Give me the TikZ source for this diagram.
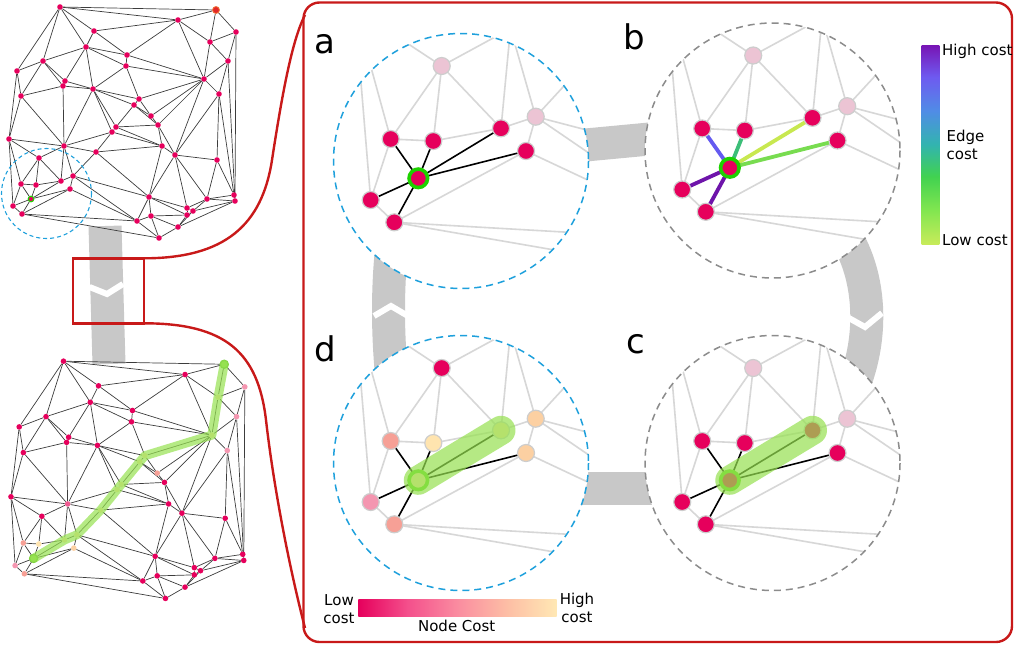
\documentclass[tikz,border=0pt]{standalone}
\usepackage{fontspec}
\setmainfont{DejaVu Sans}
\usetikzlibrary{backgrounds}

\definecolor{nodemag}{RGB}{230,0,92}
\definecolor{nodepale}{RGB}{236,196,212}
\definecolor{nodeborder}{RGB}{205,205,205}
\definecolor{lightedgec}{RGB}{215,215,215}
\definecolor{miniedgec}{RGB}{60,60,60}
\definecolor{bandgray}{RGB}{200,200,200}
\definecolor{framered}{RGB}{200,25,25}
\definecolor{zoomblue}{RGB}{30,160,220}
\definecolor{zoomgray}{RGB}{140,140,140}
\definecolor{ringgreen}{RGB}{30,210,0}
\definecolor{ringlight}{RGB}{90,215,30}
\definecolor{pathgreen}{RGB}{150,225,80}
\definecolor{endringc}{RGB}{110,200,50}
\definecolor{costsalmon}{RGB}{246,160,150}
\definecolor{costyellow}{RGB}{255,228,175}
\definecolor{costpeach}{RGB}{252,208,162}
\definecolor{costpink}{RGB}{244,150,176}
\definecolor{costhot}{RGB}{238,90,145}
\definecolor{goalred}{RGB}{226,40,40}
\definecolor{goalring}{RGB}{240,120,60}
\definecolor{ecviolet}{RGB}{100,90,240}
\definecolor{ecteal}{RGB}{60,190,120}
\definecolor{eclime}{RGB}{200,232,80}
\definecolor{ecgreen}{RGB}{120,220,80}
\definecolor{ecpurple}{RGB}{110,20,170}
% colour bar stops
\definecolor{ec0}{RGB}{200,235,90}
\definecolor{ec1}{RGB}{130,230,80}
\definecolor{ec2}{RGB}{65,210,80}
\definecolor{ec3}{RGB}{50,180,175}
\definecolor{ec4}{RGB}{80,140,230}
\definecolor{ec5}{RGB}{110,90,240}
\definecolor{ec6}{RGB}{120,20,180}
\definecolor{nc0}{RGB}{230,0,92}
\definecolor{nc1}{RGB}{244,80,140}
\definecolor{nc2}{RGB}{250,140,160}
\definecolor{nc3}{RGB}{253,190,165}
\definecolor{nc4}{RGB}{255,232,180}

\pgfdeclareverticalshading{edgecostbar}{100bp}{color(0bp)=(ec0); color(25bp)=(ec0); color(33.5bp)=(ec1); color(42bp)=(ec2); color(50bp)=(ec3); color(58.5bp)=(ec4); color(67bp)=(ec5); color(75bp)=(ec6); color(100bp)=(ec6)}
\pgfdeclarehorizontalshading{nodecostbar}{100bp}{color(0bp)=(nc0); color(25bp)=(nc0); color(37.5bp)=(nc1); color(50bp)=(nc2); color(62.5bp)=(nc3); color(75bp)=(nc4); color(100bp)=(nc4)}

% overview graph: index/x/y
\newcommand{\minipts}{1/60/7, 2/216/10, 3/178/20, 4/236/32, 5/94/31, 6/210/42, 7/86/47, 8/127/55, 9/43/61, 10/228/61, 11/126/66, 12/17/71, 13/65/81, 14/204/79, 15/63/86, 16/93/89, 17/219/94, 18/21/96, 19/139/99, 20/134/105, 21/151/116, 22/158/125, 23/116/127, 24/112/132, 25/9/139, 26/64/146, 27/162/146, 28/96/152, 29/175/155, 30/39/158, 31/217/160, 32/73/176, 33/61/181, 34/21/184, 35/36/185, 36/70/189, 37/31/199, 38/149/197, 39/234/195, 40/235/201, 41/207/199, 42/13/206, 43/187/208, 44/193/211, 45/187/215, 46/22/214, 47/151/216, 48/137/221, 49/178/227, 50/159/238}
\newcommand{\miniedges}{1/2,1/3,1/5,1/7,1/9,1/12,2/3,2/4,2/6,3/5,3/6,3/8,3/14,4/6,4/10,4/40,5/7,5/8,6/10,6/14,7/8,7/9,7/11,7/13,7/16,8/11,8/14,9/12,9/13,9/15,9/18,10/14,10/17,10/40,11/14,11/16,11/19,12/18,12/25,13/15,13/16,14/17,14/19,14/21,14/22,14/29,15/16,15/18,15/26,16/19,16/20,16/23,16/24,16/26,17/29,17/31,17/39,18/25,18/26,19/20,19/21,20/21,20/22,20/23,21/22,22/23,22/27,22/29,23/24,23/27,24/26,24/27,24/28,25/26,25/30,25/34,25/42,26/28,26/30,26/32,26/33,27/28,27/29,27/38,28/32,28/38,29/31,29/38,29/41,29/43,30/33,30/34,30/35,31/39,31/41,32/33,32/36,32/38,32/48,33/35,33/37,34/35,34/37,34/42,35/37,36/37,36/46,36/48,37/42,37/46,38/43,38/45,38/47,38/48,39/40,39/41,40/41,40/44,40/49,41/43,41/44,42/46,43/44,43/45,44/45,44/49,45/47,45/49,46/48,46/50,47/48,47/49,47/50,48/50,49/50}

% zoomed neighbourhood, in the frame of panel a
\newcommand{\zoompoints}[1]{%
  \coordinate (#1p25) at (354.9,8.8);
  \coordinate (#1p26) at (510.5,28.6);
  \coordinate (#1p28) at (601.1,45.6);
  \coordinate (#1p38) at (751.1,172.9);
  \coordinate (#1p48) at (717.1,240.8);
  \coordinate (#1p50) at (779.4,288.9);
  \coordinate (#1p30) at (441.7,66);
  \coordinate (#1p32) at (535.7,116.7);
  \coordinate (#1p33) at (501,128.3);
  \coordinate (#1p34) at (390.7,139);
  \coordinate (#1p35) at (433.3,141);
  \coordinate (#1p36) at (526,151);
  \coordinate (#1p37) at (418.3,178.3);
  \coordinate (#1p42) at (370.7,200);
  \coordinate (#1p46) at (394.3,222.3);
}
\newcommand{\zoomlight}[1]{%
  \begin{scope}
    \clip (461,161) circle (127.5);
    \foreach \u/\v in {25/30,26/30,30/33,30/34,30/35,25/34,25/42,34/35,34/42,33/35,26/33,26/32,28/32,32/38,32/48,32/33,32/36,36/48,36/46,42/46,46/48,46/50}
      \draw[lightedge] (#1p\u) -- (#1p\v);
  \end{scope}
}

\tikzset{
  every node/.style={font=\fontsize{15}{18}\selectfont},
  minidot/.style={circle, fill=nodemag, inner sep=0pt, minimum size=5.6pt},
  miniedge/.style={draw=miniedgec, line width=0.7pt},
  minicircle/.style={draw=zoomblue, dash pattern=on 4pt off 3pt, line width=1.1pt},
  zoomdot/.style={circle, fill=nodemag, draw=nodeborder, line width=1.2pt, inner sep=0pt, minimum size=17pt},
  zoomring/.style={draw=ringgreen, line width=3.6pt, minimum size=18.5pt},
  lightedge/.style={draw=lightedgec, line width=1.6pt},
  nbredge/.style={draw=black, line width=1.6pt},
  costedge/.style={line width=3.8pt},
  band/.style={draw=bandgray, line width=33pt},
  chevron/.style={draw=white, line width=6pt},
  pathglow/.style={draw=pathgreen, opacity=0.7, line cap=round, line join=round},
  endring/.style={circle, fill=pathgreen, draw=endringc, line width=1.3pt, inner sep=0pt, minimum size=8pt},
  zoomcircle/.style={dash pattern=on 7pt off 5pt, line width=1.5pt},
  redline/.style={draw=framered, line width=2.4pt},
  panellabel/.style={font=\fontsize{34}{34}\selectfont, anchor=base west, inner sep=0pt},
  barlabel/.style={inner sep=0pt},
  tnode2/.style={minimum size=7pt, fill=goalred, draw=goalring, line width=0.8pt},
  tnode37/.style={draw=ringgreen, line width=1.1pt},
  bnode4/.style={fill=costpink}, bnode10/.style={fill=costpink},
  bnode17/.style={fill=costpink}, bnode21/.style={fill=costsalmon},
  bnode26/.style={fill=costhot}, bnode34/.style={fill=costsalmon},
  bnode35/.style={fill=costyellow}, bnode36/.style={fill=costpeach},
  bnode42/.style={fill=costpink}, bnode46/.style={fill=costsalmon},
  bnode2/.style={fill=costyellow}, bnode6/.style={fill=costyellow},
  bnode14/.style={fill=costyellow}, bnode19/.style={fill=costyellow},
  bnode20/.style={fill=costyellow}, bnode23/.style={fill=costyellow},
  bnode24/.style={fill=costyellow}, bnode28/.style={fill=costyellow},
  bnode32/.style={fill=costyellow}, bnode33/.style={fill=costyellow},
  bnode37/.style={fill=costyellow},
}

\begin{document}
\begin{tikzpicture}[x=1pt, y=-1pt]
\useasboundingbox (0,0) rectangle (1016,645);

% flow bands between the views
\begin{scope}[on background layer]
  \draw[band] (105,226) -- (109,364);
  \draw[chevron] (89.5,287) -- (107,294) -- (123,284);
  \draw[band] (575,146) -- (660,138);
  \draw[band] (845,235) .. controls (870,275) and (875,335) .. (852,390);
  \draw[chevron] (847,317) -- (865,327) -- (882,313);
  \draw[band] (575,488.5) -- (660,488.5);
  \draw[band] (393,235) .. controls (387,285) and (387,335) .. (393,390);
  \draw[chevron] (374,316) -- (391,306) -- (408,316);
\end{scope}

% overview graph, top
\begin{scope}
  \foreach \i/\x/\y in \minipts
    \node[minidot, tnode\i/.try] (t\i) at (\x,\y) {};
  \begin{scope}[on background layer]
    \foreach \u/\v in \miniedges
      \draw[miniedge] (t\u) -- (t\v);
  \end{scope}
  \draw[minicircle] (46.5,193.5) circle (45);
\end{scope}

% overview graph, bottom, with the found path
\begin{scope}[shift={(1.7,354)}, xscale=1.03, yscale=1.027]
  \foreach \i/\x/\y in \minipts
    \node[minidot, bnode\i/.try] (b\i) at (\x,\y) {};
  \begin{scope}[on background layer]
    \foreach \u/\v in \miniedges
      \draw[miniedge] (b\u) -- (b\v);
  \end{scope}
  \node[endring] (startring) at (b37) {};
  \node[endring] (goalring) at (b2) {};
  \draw[pathglow, line width=9pt] (b37.center) -- (b33.center) -- (b32.center) -- (b28.center)
    -- (b24.center) -- (b23.center) -- (b20.center) -- (b19.center) -- (b14.center)
    -- (b6.center) -- (b2.center);
\end{scope}

% zoom callout
\draw[redline] (72.7,258.3) rectangle (144,323.3);
\draw[redline] (144,258.3) .. controls (225,258.3) and (262,225) .. (272,160)
  .. controls (282,95) and (292,40) .. (305,15);
\draw[redline] (144,323.3) .. controls (225,323.3) and (258,352) .. (266,420)
  .. controls (274,490) and (290,570) .. (305,628);
\draw[redline, rounded corners=16pt] (303.5,2.5) rectangle (1012,642);

% panel a
\begin{scope}
  \zoompoints{a}
  \fill[white] (461,161) circle (127.5);
  \zoomlight{a}
  \foreach \v in {34,35,33,36,42,46}
    \draw[nbredge] (ap37) -- (ap\v);
  \foreach \v/\c in {30/nodepale,32/nodepale,33/nodemag,34/nodemag,35/nodemag,36/nodemag,42/nodemag,46/nodemag}
    \node[zoomdot, fill=\c] (av\v) at (ap\v) {};
  \node[zoomdot, zoomring] (av37) at (ap37) {};
  \draw[zoomblue, zoomcircle] (461,161) circle (127.5);
\end{scope}

% panel b
\begin{scope}[shift={(311.5,-10.5)}]
  \zoompoints{b}
  \fill[white] (461,161) circle (127.5);
  \zoomlight{b}
  \foreach \v/\c in {34/ecviolet,35/ecteal,33/eclime,36/ecgreen,42/ecpurple,46/ecpurple}
    \draw[costedge, \c] (bp37) -- (bp\v);
  \foreach \v/\c in {30/nodepale,32/nodepale,33/nodemag,34/nodemag,35/nodemag,36/nodemag,42/nodemag,46/nodemag}
    \node[zoomdot, fill=\c] (bv\v) at (bp\v) {};
  \node[zoomdot, zoomring] (bv37) at (bp37) {};
  \draw[zoomgray, zoomcircle] (461,161) circle (127.5);
\end{scope}

% panel c
\begin{scope}[shift={(311.5,302)}]
  \zoompoints{c}
  \fill[white] (461,161) circle (127.5);
  \zoomlight{c}
  \foreach \v in {34,35,33,36,42,46}
    \draw[nbredge] (cp37) -- (cp\v);
  \foreach \v/\c in {30/nodepale,32/nodepale,33/nodemag,34/nodemag,35/nodemag,36/nodemag,42/nodemag,46/nodemag}
    \node[zoomdot, fill=\c] (cv\v) at (cp\v) {};
  \node[zoomdot, zoomring, draw=ringlight] (cv37) at (cp37) {};
  \draw[pathglow, line width=29pt] (cv37.center) -- (cv33.center);
  \draw[zoomgray, zoomcircle] (461,161) circle (127.5);
\end{scope}

% panel d
\begin{scope}[shift={(0,302)}]
  \zoompoints{d}
  \fill[white] (461,161) circle (127.5);
  \zoomlight{d}
  \foreach \v in {34,35,33,36,42,46}
    \draw[nbredge] (dp37) -- (dp\v);
  \foreach \v/\c in {30/nodemag,32/costpeach,33/costyellow,34/costsalmon,35/costyellow,36/costpeach,42/costpink,46/costsalmon}
    \node[zoomdot, fill=\c] (dv\v) at (dp\v) {};
  \node[zoomdot, zoomring, fill=costyellow, draw=ringlight] (dv37) at (dp37) {};
  \draw[pathglow, line width=29pt] (dv37.center) -- (dv33.center);
  \draw[zoomblue, zoomcircle] (461,161) circle (127.5);
\end{scope}

% panel letters
\node[panellabel] (lbla) at (314.7,53) {a};
\node[panellabel] (lblb) at (623,49.5) {b};
\node[panellabel] (lblc) at (626.5,353) {c};
\node[panellabel] (lbld) at (314.7,361.7) {d};

% edge cost bar
\shade[shading=edgecostbar] (921.7,45) rectangle (939.3,244.3);
\node[barlabel, anchor=base west] (edgehigh) at (942,55) {High cost};
\node[barlabel, anchor=north west, align=left] (edgetitle) at (946.5,129.5) {Edge\\cost};
\node[barlabel, anchor=base west] (edgelow) at (942,245) {Low cost};

% node cost bar
\shade[shading=nodecostbar] (358.3,599.3) rectangle (556.7,616);
\node[barlabel, anchor=north, align=center] (nodelow) at (339,594) {Low\\cost};
\node[barlabel, anchor=north, align=center] (nodehigh) at (577,592.5) {High\\cost};
\node[barlabel, anchor=base] (nodetitle) at (456.7,631) {Node Cost};
\end{tikzpicture}
\end{document}
